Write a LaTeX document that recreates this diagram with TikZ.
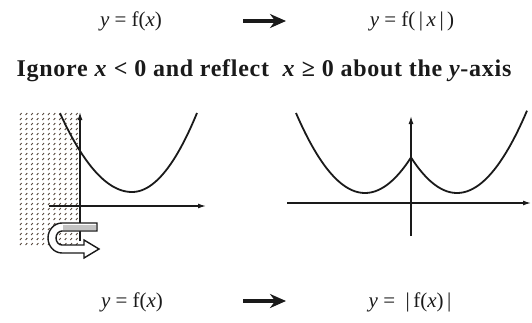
\documentclass[tikz,border=0pt]{standalone}
\usepackage{fontspec}
\setmainfont{Liberation Serif}
\usetikzlibrary{arrows.meta}
\definecolor{rflInk}{HTML}{1A1A1A}
\definecolor{rflDots}{HTML}{4A3A2E}
\definecolor{rflBand}{HTML}{C4C4C4}
\tikzset{
  rfl axis/.style={draw=rflInk, line width=1.3pt, -{Latex[length=8pt,width=5pt]}},
  rfl curve/.style={draw=rflInk, line width=1.8pt},
  rfl map/.style={draw=rflInk, line width=4pt, -{Stealth[length=16pt,width=14pt]}},
  rfl formula/.style={font=\fontsize{21}{24}\selectfont, text=rflInk, inner sep=0pt},
  rfl title/.style={font=\fontsize{24}{28}\selectfont\bfseries\addfontfeatures{LetterSpace=3}, text=rflInk, inner sep=0pt},
  rfl dot/.style={draw=rflDots, line width=0.8pt},
}

\begin{document}
\begin{tikzpicture}[x=1pt,y=-1pt]
  \useasboundingbox (0,0) rectangle (532,322);

  % top row: f(x) -> f(|x|)
  \node[rfl formula] (fx top) at (131,21) {\textit{y} = f(\textit{x})};
  \node[rfl formula] (fabsx) at (412,21) {\textit{y} = f(\,|\,\textit{x}\,|\,)};
  \coordinate (map top a) at (243,21);
  \coordinate (map top b) at (286,21);
  \draw[rfl map] (map top a) -- (map top b);

  \node[rfl title] (rule) at (264,71) {Ignore \textit{x} < 0 and reflect\ \ \textit{x} ≥ 0 about the \textit{y}-axis};

  % left graph, x<0 part hatched
  \foreach \i in {0,...,10} {
    \foreach \j in {0,...,26} {
      \draw[rfl dot] (20+\i*5.6,115+\j*5) -- ++(1.6,-2);
    }
  }
  \draw[rfl axis] (49,206) -- (206,206);
  \draw[rfl axis] (80,241) -- (80,112);
  \draw[rfl curve] plot[domain=60:132, samples=40] (\x,{192-0.0152*(\x-132)^2})
    -- plot[domain=132:197, samples=40] (\x,{192-0.0187*(\x-132)^2});
  \draw[rfl curve, line width=1.4pt, fill=white]
    (97,223) -- (62,223) arc[start angle=270, end angle=90, x radius=14, y radius=15]
    -- (84,253) -- (84,258) -- (99,249) -- (84,240) -- (84,245) -- (62,245)
    arc[start angle=90, end angle=270, x radius=6, y radius=7] -- (97,231) -- cycle;
  \fill[rflBand] (63,224.5) rectangle (96,229.5);

  % right graph, f(|x|)
  \draw[rfl axis] (287,203) -- (531,203);
  \draw[rfl axis] (411,236) -- (411,116);
  \draw[rfl curve] plot[domain=296:411, samples=50] (\x,{193-0.0168*(\x-365)^2})
    -- plot[domain=411:527, samples=50] (\x,{193-0.0168*(\x-457)^2});

  % bottom row: f(x) -> |f(x)|
  \node[rfl formula] (fx bottom) at (132,302) {\textit{y} = f(\textit{x})};
  \node[rfl formula] (absfx) at (410,302) {\textit{y} = \ |\,f(\textit{x})\,|};
  \coordinate (map bot a) at (243,301);
  \coordinate (map bot b) at (286,301);
  \draw[rfl map] (map bot a) -- (map bot b);
\end{tikzpicture}
\end{document}
